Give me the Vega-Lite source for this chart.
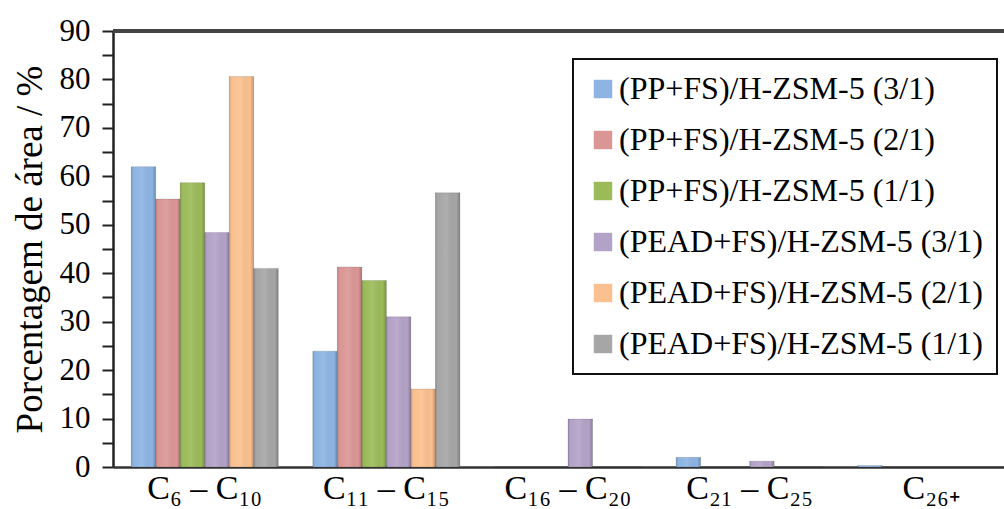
{
  "$schema": "https://vega.github.io/schema/vega-lite/v6.json",
  "autosize": "none",
  "width": 910,
  "height": 436,
  "padding": {"left": 113, "top": 31, "right": -19, "bottom": 42},
  "background": "white",
  "config": {
    "view": {"stroke": null},
    "font": "Liberation Serif",
    "axis": {"grid": false, "labelFont": "Liberation Serif", "titleFont": "Liberation Serif", "labelColor": "black", "titleColor": "black", "domainColor": "#333333"},
    "legend": {"labelFont": "Liberation Serif", "strokeWidth": 2}
  },
  "data": {
    "values": [
      {"cat": "C₆ – C₁₀", "series": "(PP+FS)/H-ZSM-5 (3/1)", "value": 62.0},
      {"cat": "C₆ – C₁₀", "series": "(PP+FS)/H-ZSM-5 (2/1)", "value": 55.3},
      {"cat": "C₆ – C₁₀", "series": "(PP+FS)/H-ZSM-5 (1/1)", "value": 58.7},
      {"cat": "C₆ – C₁₀", "series": "(PEAD+FS)/H-ZSM-5 (3/1)", "value": 48.4},
      {"cat": "C₆ – C₁₀", "series": "(PEAD+FS)/H-ZSM-5 (2/1)", "value": 80.6},
      {"cat": "C₆ – C₁₀", "series": "(PEAD+FS)/H-ZSM-5 (1/1)", "value": 41.0},
      {"cat": "C₁₁ – C₁₅", "series": "(PP+FS)/H-ZSM-5 (3/1)", "value": 23.9},
      {"cat": "C₁₁ – C₁₅", "series": "(PP+FS)/H-ZSM-5 (2/1)", "value": 41.3},
      {"cat": "C₁₁ – C₁₅", "series": "(PP+FS)/H-ZSM-5 (1/1)", "value": 38.5},
      {"cat": "C₁₁ – C₁₅", "series": "(PEAD+FS)/H-ZSM-5 (3/1)", "value": 31.0},
      {"cat": "C₁₁ – C₁₅", "series": "(PEAD+FS)/H-ZSM-5 (2/1)", "value": 16.1},
      {"cat": "C₁₁ – C₁₅", "series": "(PEAD+FS)/H-ZSM-5 (1/1)", "value": 56.6},
      {"cat": "C₁₆ – C₂₀", "series": "(PP+FS)/H-ZSM-5 (3/1)", "value": 0},
      {"cat": "C₁₆ – C₂₀", "series": "(PP+FS)/H-ZSM-5 (2/1)", "value": 0},
      {"cat": "C₁₆ – C₂₀", "series": "(PP+FS)/H-ZSM-5 (1/1)", "value": 0},
      {"cat": "C₁₆ – C₂₀", "series": "(PEAD+FS)/H-ZSM-5 (3/1)", "value": 9.9},
      {"cat": "C₁₆ – C₂₀", "series": "(PEAD+FS)/H-ZSM-5 (2/1)", "value": 0},
      {"cat": "C₁₆ – C₂₀", "series": "(PEAD+FS)/H-ZSM-5 (1/1)", "value": 0},
      {"cat": "C₂₁ – C₂₅", "series": "(PP+FS)/H-ZSM-5 (3/1)", "value": 2.0},
      {"cat": "C₂₁ – C₂₅", "series": "(PP+FS)/H-ZSM-5 (2/1)", "value": 0},
      {"cat": "C₂₁ – C₂₅", "series": "(PP+FS)/H-ZSM-5 (1/1)", "value": 0},
      {"cat": "C₂₁ – C₂₅", "series": "(PEAD+FS)/H-ZSM-5 (3/1)", "value": 1.2},
      {"cat": "C₂₁ – C₂₅", "series": "(PEAD+FS)/H-ZSM-5 (2/1)", "value": 0},
      {"cat": "C₂₁ – C₂₅", "series": "(PEAD+FS)/H-ZSM-5 (1/1)", "value": 0},
      {"cat": "C₂₆₊", "series": "(PP+FS)/H-ZSM-5 (3/1)", "value": 0.3},
      {"cat": "C₂₆₊", "series": "(PP+FS)/H-ZSM-5 (2/1)", "value": 0},
      {"cat": "C₂₆₊", "series": "(PP+FS)/H-ZSM-5 (1/1)", "value": 0},
      {"cat": "C₂₆₊", "series": "(PEAD+FS)/H-ZSM-5 (3/1)", "value": 0},
      {"cat": "C₂₆₊", "series": "(PEAD+FS)/H-ZSM-5 (2/1)", "value": 0},
      {"cat": "C₂₆₊", "series": "(PEAD+FS)/H-ZSM-5 (1/1)", "value": 0}
    ]
  },
  "encoding": {
    "x": {
      "field": "cat", "type": "nominal", "sort": null,
      "scale": {"paddingInner": 0.19, "paddingOuter": 0.1},
      "axis": {"title": null, "labelAngle": 0, "ticks": false, "labelFontSize": 34, "labelPadding": 4, "domainWidth": 2.5}
    },
    "y": {
      "field": "value", "type": "quantitative",
      "scale": {"domain": [0, 90], "nice": false},
      "axis": {
        "title": "Porcentagem de área / %",
        "titleFontSize": 37, "titleFontWeight": "normal", "titlePadding": 10,
        "values": [0, 5, 10, 15, 20, 25, 30, 35, 40, 45, 50, 55, 60, 65, 70, 75, 80, 85, 90],
        "labelExpr": "datum.value % 10 == 0 ? datum.label : ''",
        "labelFontSize": 31, "labelPadding": 12,
        "tickSize": 11, "tickWidth": 2, "tickColor": "#222222",
        "domainWidth": 2.5, "domainColor": "#222222"
      }
    },
    "xOffset": {"field": "series", "type": "nominal", "sort": null, "scale": {"paddingInner": 0, "paddingOuter": 0}}
  },
  "layer": [
    {
      "mark": {"type": "rule", "color": "#444444", "strokeWidth": 2.5},
      "encoding": {"x": null, "xOffset": null, "y": {"datum": 90, "type": "quantitative"}}
    },
    {
      "mark": {"type": "bar", "stroke": "#000000", "strokeOpacity": 0.12, "strokeWidth": 1},
      "encoding": {
        "color": {
          "field": "series", "type": "nominal",
          "scale": {
            "domain": ["(PP+FS)/H-ZSM-5 (3/1)", "(PP+FS)/H-ZSM-5 (2/1)", "(PP+FS)/H-ZSM-5 (1/1)", "(PEAD+FS)/H-ZSM-5 (3/1)", "(PEAD+FS)/H-ZSM-5 (2/1)", "(PEAD+FS)/H-ZSM-5 (1/1)"],
            "range": ["#8DB4E3", "#DA9694", "#9BBB59", "#B3A2C7", "#FAC08F", "#A6A6A6"]
          },
          "legend": {
            "title": null, "orient": "none", "legendX": 460, "legendY": 28,
            "direction": "vertical",
            "strokeColor": "#111111", "fillColor": "white",
            "padding": 14, "symbolType": "square", "symbolSize": 340, "symbolStrokeWidth": 0,
            "labelFontSize": 32, "labelColor": "black", "labelLimit": 0, "labelOffset": 0,
            "rowPadding": 19
          }
        }
      }
    },
    {
      "mark": {"type": "bar", "color": {"gradient": "linear", "x1": 0, "x2": 1, "y1": 0, "y2": 0, "stops": [
        {"offset": 0, "color": "rgba(0,0,0,0.18)"},
        {"offset": 0.15, "color": "rgba(255,255,255,0.0)"},
        {"offset": 0.45, "color": "rgba(255,255,255,0.1)"},
        {"offset": 0.85, "color": "rgba(0,0,0,0.0)"},
        {"offset": 1, "color": "rgba(0,0,0,0.22)"}
      ]}}
    }
  ]
}
